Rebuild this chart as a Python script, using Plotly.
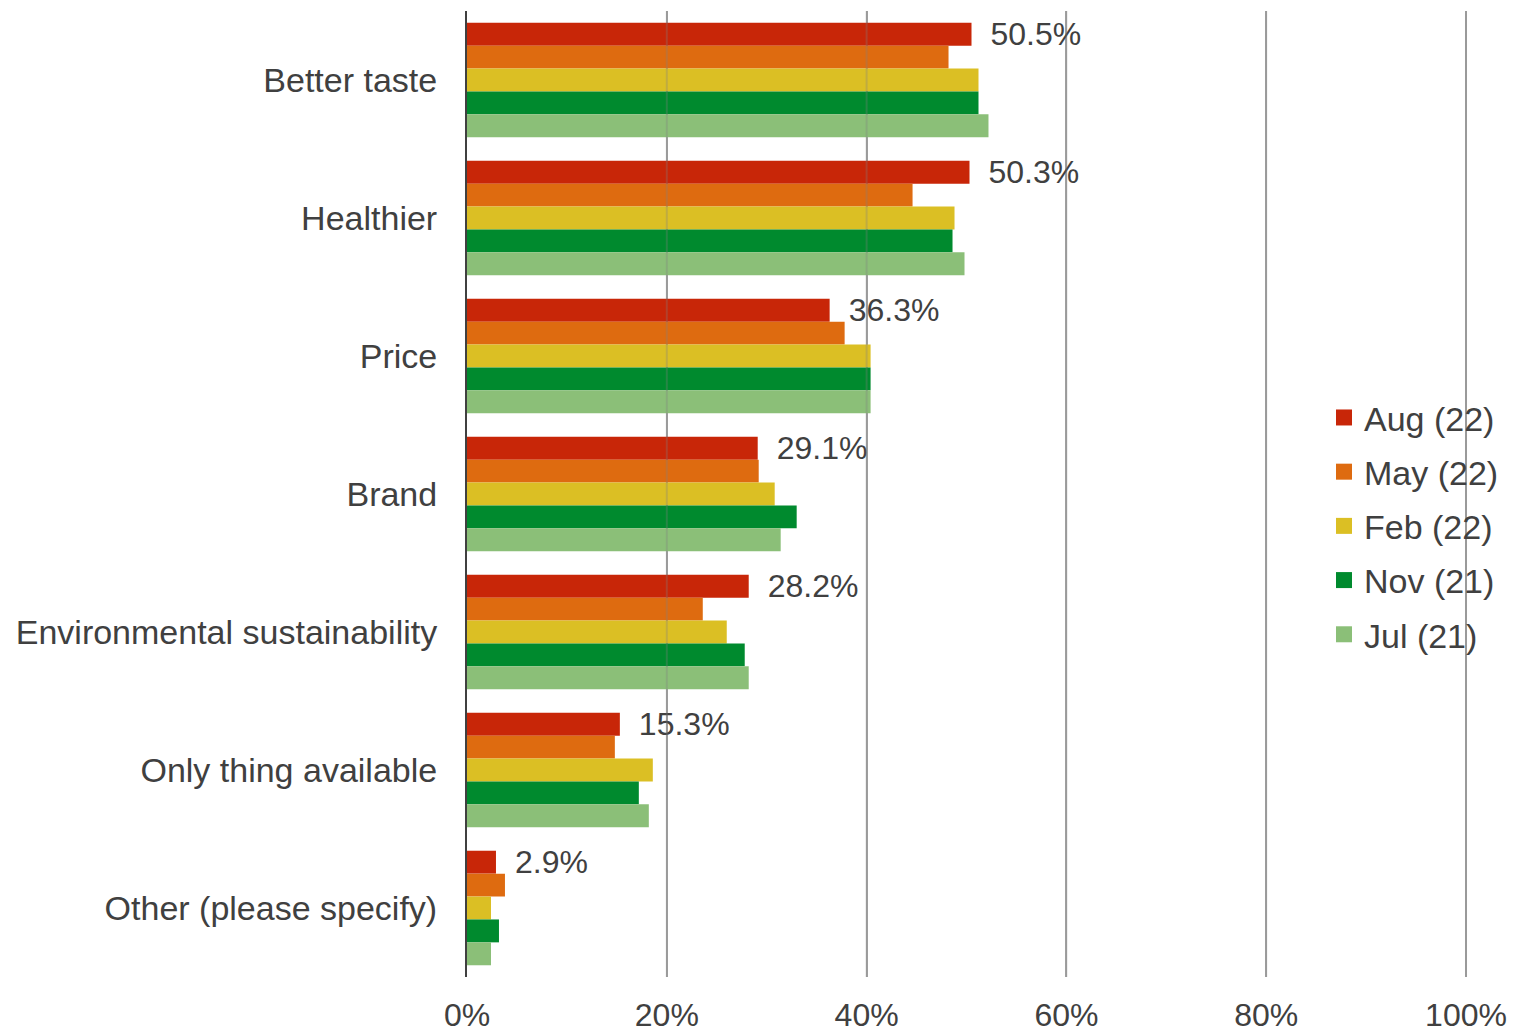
import plotly.graph_objects as go

# Reasons for choosing, by survey wave (share of respondents, %)
categories = [
    "Better taste",
    "Healthier",
    "Price",
    "Brand",
    "Environmental sustainability",
    "Only thing available",
    "Other (please specify)",
]
series_names = ["Aug (22)", "May (22)", "Feb (22)", "Nov (21)", "Jul (21)"]
aug_22 = [50.5, 50.3, 36.3, 29.1, 28.2, 15.3, 2.9]
may_22 = [48.2, 44.6, 37.8, 29.2, 23.6, 14.8, 3.8]
feb_22 = [51.2, 48.8, 40.4, 30.8, 26.0, 18.6, 2.4]
nov_21 = [51.2, 48.6, 40.4, 33.0, 27.8, 17.2, 3.2]
jul_21 = [52.2, 49.8, 40.4, 31.4, 28.2, 18.2, 2.4]
series_values = [aug_22, may_22, feb_22, nov_21, jul_21]
colors = ["#C82608", "#DE6B10", "#DBBF24", "#008A2E", "#8BBF78"]
x_ticks = [0, 20, 40, 60, 80, 100]
x_tick_labels = ["0%", "20%", "40%", "60%", "80%", "100%"]

text_color = "#404040"
font_family = "Liberation Sans, Arial, sans-serif"

fig = go.Figure()
for i, (name, vals, col) in enumerate(zip(series_names, series_values, colors)):
    kwargs = {}
    if i == 0:
        kwargs = dict(
            text=["\u2002" + f"{v:.1f}%" for v in vals],
            textposition="outside",
            textfont=dict(size=32, color=text_color, family=font_family),
            constraintext="none",
            cliponaxis=False,
        )
    fig.add_trace(
        go.Bar(
            name=name,
            y=categories,
            x=vals,
            orientation="h",
            marker=dict(color=col, line=dict(width=0)),
            showlegend=False,
            **kwargs,
        )
    )

# Legend entries with larger square swatches
for name, col in zip(series_names, colors):
    fig.add_trace(
        go.Scatter(
            name=name,
            x=[None],
            y=[None],
            mode="markers",
            marker=dict(symbol="square", size=18, color=col),
            legendgroup=name,
        )
    )

# Faint gridlines drawn over the bars as well
for t in x_ticks[1:]:
    fig.add_shape(
        type="line",
        xref="x",
        yref="paper",
        x0=t,
        x1=t,
        y0=0,
        y1=1,
        line=dict(color="#808080", width=2),
        opacity=0.3,
        layer="above",
    )

fig.update_layout(
    width=1528,
    height=1034,
    barmode="group",
    bargap=0.17,
    bargroupgap=0,
    plot_bgcolor="white",
    paper_bgcolor="white",
    font=dict(family=font_family, size=34, color=text_color),
    margin=dict(l=467, r=42, t=11, b=57, autoexpand=False),
    showlegend=True,
    legend=dict(
        x=0.841,
        y=0.467,
        xanchor="left",
        yanchor="middle",
        bgcolor="rgba(0,0,0,0)",
        font=dict(size=34, color=text_color),
        tracegroupgap=7,
        itemsizing="trace",
    ),
    xaxis=dict(
        range=[0, 102],
        tickvals=x_ticks,
        ticktext=x_tick_labels,
        showgrid=True,
        gridcolor="#A6A6A6",
        gridwidth=2,
        zeroline=False,
        showline=False,
        ticks="",
        automargin=False,
        ticklabelstandoff=16,
        tickfont=dict(size=32, color=text_color),
    ),
    yaxis=dict(
        autorange="reversed",
        showline=True,
        linecolor="#404040",
        linewidth=2,
        ticks="",
        automargin=False,
        ticklabelstandoff=21,
        tickfont=dict(size=34, color=text_color),
    ),
)

fig.write_html("out.html")
